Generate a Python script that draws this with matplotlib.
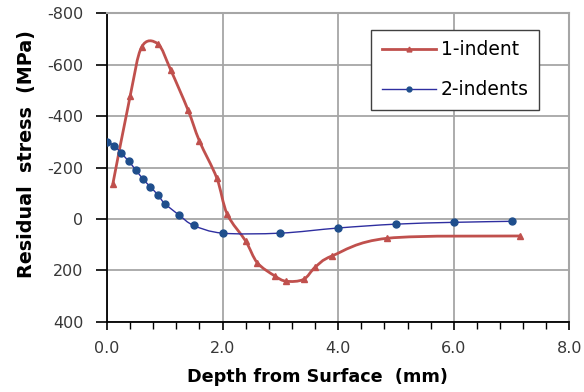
import numpy as np
import matplotlib
matplotlib.use("Agg")
import matplotlib.pyplot as plt
from matplotlib.path import Path
from matplotlib.patches import PathPatch
from matplotlib.lines import Line2D
from matplotlib.ticker import MultipleLocator

plt.rcParams['font.family'] = ['DejaVu Sans']

# 1-indent (red triangles)
depth_1 = [0.1, 0.4, 0.6, 0.88, 1.1, 1.4, 1.6, 1.9, 2.08, 2.4, 2.6, 2.9, 3.1, 3.4, 3.6, 3.9, 4.85, 7.15]
stress_1 = [-135, -477, -669, -681, -581, -425, -303, -159, -19, 86, 170, 221, 242, 235, 188, 143, 75, 66]

# 2-indents (blue circles)
depth_2 = [0.0, 0.125, 0.25, 0.375, 0.5, 0.625, 0.75, 0.875, 1.0, 1.25, 1.5, 2.0, 3.0, 4.0, 5.0, 6.0, 7.0]
stress_2 = [-300, -285, -255, -225, -190, -155, -125, -95, -60, -15, 25, 55, 55, 35, 20, 13, 9]

x_ticks = [0, 2, 4, 6, 8]
y_ticks = [-800, -600, -400, -200, 0, 200, 400]


def smooth_path(xs, ys):
    # excel-style smoothed line: cubic bezier through every point
    p = np.column_stack([xs, ys]).astype(float)
    ext = np.vstack([p[0], p, p[-1]])
    verts = [p[0]]
    codes = [Path.MOVETO]
    for i in range(len(p) - 1):
        c1 = ext[i + 1] + (ext[i + 2] - ext[i]) / 6.0
        c2 = ext[i + 2] - (ext[i + 3] - ext[i + 1]) / 6.0
        verts += [c1, c2, ext[i + 2]]
        codes += [Path.CURVE4] * 3
    return Path(verts, codes)


fig = plt.figure(figsize=(5.84, 3.92), dpi=100)
ax = fig.add_axes([0.1832, 0.179, 0.7918, 0.787])

red = '#C0504D'
blue_line = '#2E2EA0'
blue_mk = '#1F4E8C'

ax.add_patch(PathPatch(smooth_path(depth_1, stress_1), fill=False, edgecolor=red, lw=2.0, zorder=3))
ax.plot(depth_1, stress_1, ls='none', marker='^', ms=5, color=red, zorder=4)

ax.add_patch(PathPatch(smooth_path(depth_2, stress_2), fill=False, edgecolor=blue_line, lw=1.0, zorder=3))
ax.plot(depth_2, stress_2, ls='none', marker='o', ms=5, color=blue_mk, zorder=4)

ax.set_xlim(0, 8)
ax.set_ylim(400, -800)
ax.set_xticks(x_ticks)
ax.set_xticklabels(['%.1f' % v for v in x_ticks])
ax.set_yticks(y_ticks)
ax.set_yticklabels([str(v) for v in y_ticks])
ax.xaxis.set_minor_locator(MultipleLocator(0.4))
ax.grid(True, which='major', color='#A6A6A6', lw=1.3)
ax.set_axisbelow(True)

ax.tick_params(which='both', direction='out', color='#000000', labelsize=11.5, labelcolor='#383838')
ax.tick_params(axis='y', which='major', length=8, width=1.2, pad=9)
ax.tick_params(axis='x', which='major', length=6, width=1.2, pad=8)
ax.tick_params(which='minor', length=5, width=1.0)

for side in ['top', 'right']:
    ax.spines[side].set_color('#A6A6A6')
    ax.spines[side].set_linewidth(1.5)
for side in ['left', 'bottom']:
    ax.spines[side].set_color('#000000')
    ax.spines[side].set_linewidth(1.3)

ax.set_xlabel('Depth from Surface  (mm)', fontsize=12.7, fontweight='bold', va='center')
ax.xaxis.set_label_coords(0.455, -0.179)
ax.set_ylabel('Residual  stress  (MPa)', fontsize=13.8, fontweight='bold', va='center')
ax.yaxis.set_label_coords(-0.173, 0.544)

handles = [
    Line2D([0], [0], color=red, lw=2.0, marker='^', ms=3.5),
    Line2D([0], [0], color=blue_line, lw=1.0, marker='o', ms=3.5, markerfacecolor=blue_mk, markeredgecolor=blue_mk),
]
leg = ax.legend(handles, ['1-indent', '2-indents'], loc='upper left', bbox_to_anchor=(0.572, 0.946),
                borderaxespad=0, fontsize=13.5, frameon=True, fancybox=False, framealpha=1,
                edgecolor='#404040', handlelength=2.9, handletextpad=0.25, borderpad=0.55,
                labelspacing=1.12)
leg.get_frame().set_linewidth(1.0)

fig.savefig('out.png', dpi=100)
